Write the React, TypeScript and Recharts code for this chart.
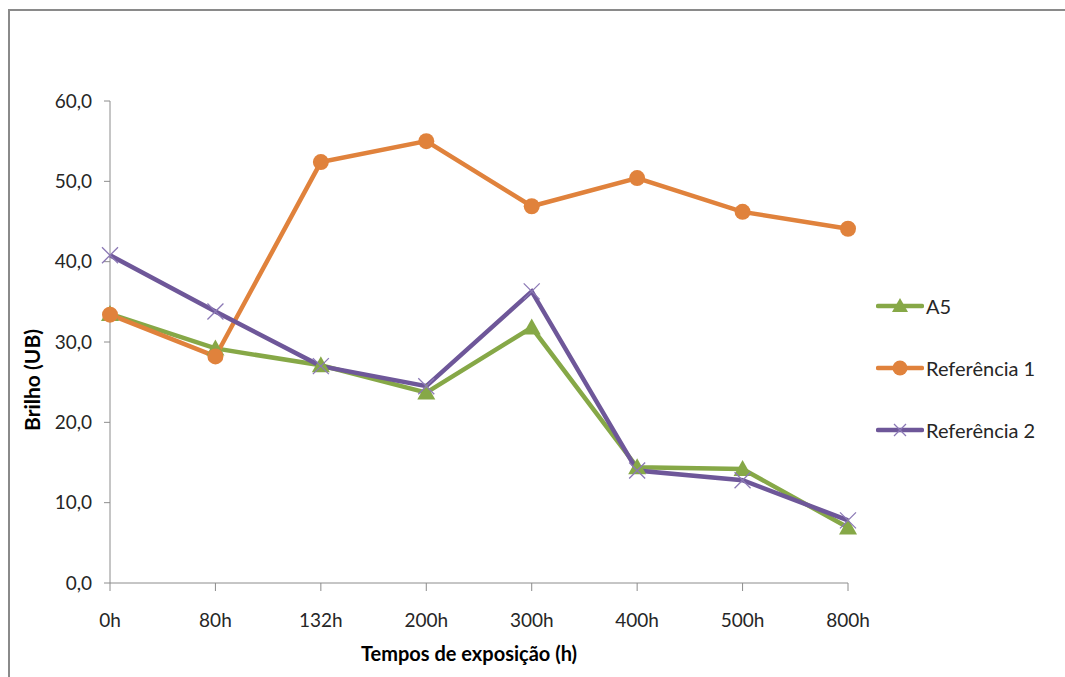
import React from "react";
import { LineChart, Line, XAxis, YAxis } from "recharts";

const tempos = ["0h", "80h", "132h", "200h", "300h", "400h", "500h", "800h"];
const a5 = [33.5, 29.2, 27.1, 23.7, 31.8, 14.4, 14.2, 6.9];
const referencia1 = [33.4, 28.2, 52.4, 55.0, 46.9, 50.4, 46.2, 44.1];
const referencia2 = [40.8, 33.8, 27.0, 24.5, 36.3, 14.0, 12.8, 7.8];
const yTicks = [0, 10, 20, 30, 40, 50, 60];

const data = tempos.map((t, i) => ({
  tempo: t,
  a5: a5[i],
  ref1: referencia1[i],
  ref2: referencia2[i],
}));

const green = "#86A847";
const orange = "#E0823C";
const purple = "#6E5799";
const axisGray = "#8C8C8C";
const textColor = "#262626";
const font = "Lato, 'Open Sans', sans-serif";

const Triangle = ({ cx, cy }: any) =>
  cx == null ? null : (
    <path d={`M${cx},${cy - 9} L${cx + 9},${cy + 7} L${cx - 9},${cy + 7} Z`} fill={green} />
  );

const Circle = ({ cx, cy }: any) =>
  cx == null ? null : <circle cx={cx} cy={cy} r={8} fill={orange} />;

const Cross = ({ cx, cy }: any) =>
  cx == null ? null : (
    <path
      d={`M${cx - 8},${cy - 8} L${cx + 8},${cy + 8} M${cx - 8},${cy + 8} L${cx + 8},${cy - 8}`}
      stroke="#8B78B5"
      strokeWidth={1.3}
      fill="none"
    />
  );

const legendItems = [
  { label: "A5", color: green, marker: "tri" },
  { label: "Referência 1", color: orange, marker: "circle" },
  { label: "Referência 2", color: purple, marker: "cross" },
];

function LegendBox() {
  return (
    <div style={{ position: "absolute", left: 876, top: 275, fontFamily: font, fontSize: 20, color: textColor }}>
      {legendItems.map((it) => (
        <div key={it.label} style={{ display: "flex", alignItems: "center", height: 62 }}>
          <svg width={48} height={20}>
            <line x1={2} y1={10} x2={46} y2={10} stroke={it.color} strokeWidth={4.5} strokeLinecap="round" />
            {it.marker === "tri" && <path d="M24,2 L32,16 L16,16 Z" fill={it.color} />}
            {it.marker === "circle" && <circle cx={24} cy={10} r={7.5} fill={it.color} />}
            {it.marker === "cross" && (
              <path d="M18,4 L30,16 M18,16 L30,4" stroke="#8B78B5" strokeWidth={1.3} />
            )}
          </svg>
          <span style={{ marginLeft: 2 }}>{it.label}</span>
        </div>
      ))}
    </div>
  );
}

const YLabel = () => (
  <text
    transform="translate(31,380) rotate(-90)"
    textAnchor="middle"
    dominantBaseline="central"
    style={{ fontFamily: font, fontWeight: 700, fontSize: 21, fill: "#000" }}
  >
    Brilho (UB)
  </text>
);

export default function App() {
  return (
    <div style={{ position: "absolute", left: 0, top: 0, width: 1065, height: 677, background: "#fff", overflow: "hidden" }}>
      <div
        style={{
          position: "absolute",
          left: 8,
          top: 9,
          width: 1100,
          height: 700,
          borderLeft: "2px solid #8A8A8A",
          borderTop: "2px solid #8A8A8A",
        }}
      />
      <LineChart
        width={1065}
        height={677}
        data={data}
        margin={{ top: 101, right: 217, bottom: 64, left: 0 }}
        style={{ position: "absolute", left: 0, top: 0 }}
      >
        <XAxis
          dataKey="tempo"
          height={30}
          padding={{ left: 0, right: 0 }}
          stroke={axisGray}
          tickSize={8}
          tick={{ fill: textColor, fontSize: 19, fontFamily: font, dy: 21 }}
          interval={0}
          label={{
            value: "Tempos de exposição (h)",
            position: "bottom",
            offset: 34,
            dx: -10,
            style: { fontFamily: font, fontWeight: 700, fontSize: 20, fill: "#000" },
          }}
        />
        <YAxis
          type="number"
          domain={[0, 60]}
          ticks={yTicks}
          width={110}
          stroke={axisGray}
          tickSize={6}
          tickFormatter={(v: number) => v.toFixed(1).replace(".", ",")}
          tick={{ fill: textColor, fontSize: 19, fontFamily: font, dx: -10 }}
          label={<YLabel />}
        />
        <Line dataKey="a5" name="A5" stroke={green} strokeWidth={4.5} dot={<Triangle />} isAnimationActive={false} />
        <Line dataKey="ref1" name="Referência 1" stroke={orange} strokeWidth={4.5} dot={<Circle />} isAnimationActive={false} />
        <Line dataKey="ref2" name="Referência 2" stroke={purple} strokeWidth={4.5} dot={<Cross />} isAnimationActive={false} />
      </LineChart>
      <LegendBox />
    </div>
  );
}
